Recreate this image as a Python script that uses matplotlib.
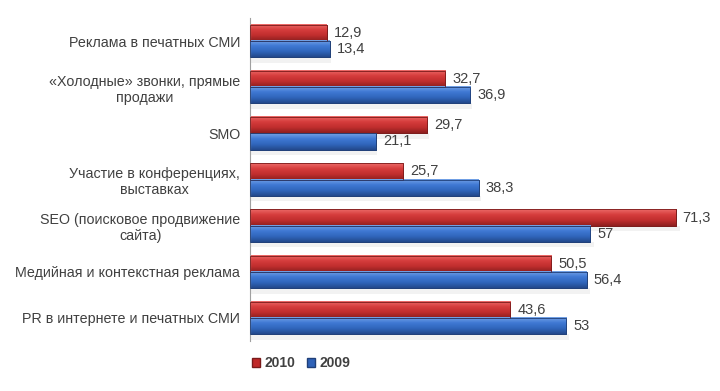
import numpy as np
import matplotlib.pyplot as plt
from matplotlib.colors import LinearSegmentedColormap
from matplotlib.patches import Patch

plt.rcParams['font.family'] = ['Liberation Sans', 'DejaVu Sans']

categories = [
    'Реклама в печатных СМИ',
    '«Холодные» звонки, прямые\nпродажи',
    'SMO',
    'Участие в конференциях,\nвыставках',
    'SEO (поисковое продвижение\nсайта)',
    'Медийная и контекстная реклама',
    'PR в интернете и печатных СМИ',
]
values_2010 = [12.9, 32.7, 29.7, 25.7, 71.3, 50.5, 43.6]
values_2009 = [13.4, 36.9, 21.1, 38.3, 57, 56.4, 53]
series_labels = ['2010', '2009']

red_cmap = LinearSegmentedColormap.from_list('r', ['#ec6a68', '#d63c3c', '#c02e2e', '#8e1f1f'])
blue_cmap = LinearSegmentedColormap.from_list('b', ['#74a2e6', '#4079d4', '#3066bc', '#23498c'])

fig = plt.figure(figsize=(7.2, 3.91), dpi=100)
ax = fig.add_axes([250 / 720, 1 - 341 / 391, 456 / 720, 323 / 391])

y = np.arange(len(categories))
h = 0.35
bars_r = ax.barh(y - h / 2, values_2010, height=h, color='#cc3333', edgecolor='#7a1a1a', linewidth=0.6, zorder=2)
bars_b = ax.barh(y + h / 2, values_2009, height=h, color='#3a6fc8', edgecolor='#1f3f78', linewidth=0.6, zorder=2)

# gradient fill + soft shadow under each bar (lighter on top)
grad = np.linspace(0, 1, 50).reshape(-1, 1)
for bars, cmap in ((bars_r, red_cmap), (bars_b, blue_cmap)):
    for b in bars:
        x0, y0, w, hh = b.get_x(), b.get_y(), b.get_width(), b.get_height()
        ax.imshow(grad, cmap=cmap, aspect='auto', extent=(x0, x0 + w, y0 + hh, y0),
                  origin='upper', zorder=2.5)
        ax.add_patch(plt.Rectangle((x0, y0), w, hh, fill=False, edgecolor=b.get_edgecolor(),
                                   linewidth=0.6, zorder=3))
        ax.add_patch(plt.Rectangle((x0, y0 + hh), w * 1.01, hh * 0.35, color='#000000',
                                   alpha=0.05, linewidth=0, zorder=1))

for bars, vals in ((bars_r, values_2010), (bars_b, values_2009)):
    for b, v in zip(bars, vals):
        ax.text(b.get_width() + 1.2, b.get_y() + b.get_height() / 2,
                f'{v:g}'.replace('.', ','), va='center', ha='left', fontsize=10.5, color='#404040')

ax.set_xlim(0, 76.4)
ax.set_ylim(len(categories) - 0.5, -0.5)
ax.set_yticks(y)
ax.set_yticklabels(categories, fontsize=10.3, color='#404040', ha='right', multialignment='center')
ax.tick_params(axis='y', length=0, pad=7)
ax.set_xticks([])
for s in ('top', 'right', 'bottom'):
    ax.spines[s].set_visible(False)
ax.spines['left'].set_color('#a0a0a0')
ax.spines['left'].set_linewidth(0.8)

handles = [Patch(facecolor='#c02828', edgecolor='#7a1a1a'), Patch(facecolor='#2f62b8', edgecolor='#1f3f78')]
leg = fig.legend(handles, series_labels, loc='center', bbox_to_anchor=(301 / 720, 1 - 363 / 391),
                 ncol=2, frameon=False, handlelength=0.6, handleheight=0.6, handletextpad=0.3,
                 columnspacing=0.8, prop={'weight': 'bold', 'size': 10})
for t in leg.get_texts():
    t.set_color('#404040')

fig.savefig('out.png', dpi=100)
